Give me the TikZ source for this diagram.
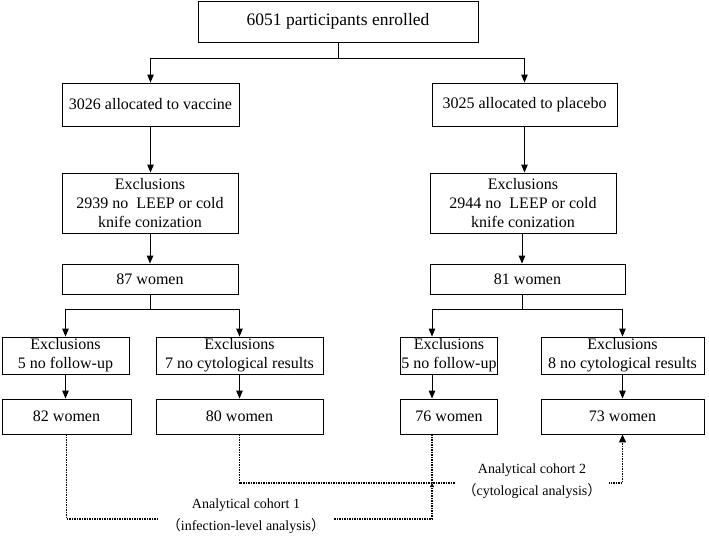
\documentclass[tikz,border=0pt]{standalone}
\usepackage{fontspec}
\setmainfont{Liberation Serif}
\newfontfamily\cjkfont{Noto Sans CJK SC}
\usetikzlibrary{arrows.meta}
\tikzset{
  box/.style={draw, line width=0.9pt, align=center, inner sep=0pt, font=\fontsize{16}{19}\selectfont},
  flow/.style={line width=0.9pt, -{Triangle[length=8pt,width=6.5pt]}},
  cohort/.style={line width=1.4pt, dash pattern=on 1.3pt off 1.2pt},
  cohortlabel/.style={fill=white, align=center, inner xsep=8pt, inner ysep=1pt, font=\fontsize{14}{22}\selectfont},
}
\begin{document}
\begin{tikzpicture}[x=1pt,y=-1pt,line join=miter]
  \useasboundingbox (0,0) rectangle (709,538);
  \node[box, minimum width=280pt, minimum height=41pt, font=\fontsize{17.5}{20}\selectfont] (enrol) at (338,21.5) {6051 participants enrolled};
  \node[box, minimum width=177pt, minimum height=43pt] (vac) at (150.5,104.5) {3026 allocated to vaccine};
  \node[box, minimum width=185pt, minimum height=43pt] (pla) at (524.5,104.5) {3025 allocated to placebo};
  \node[box, minimum width=176pt, minimum height=60pt] (exV) at (150,203) {Exclusions\\2939 no\ \ LEEP or cold\\knife conization};
  \node[box, minimum width=186pt, minimum height=60pt] (exP) at (523,203) {Exclusions\\2944 no\ \ LEEP or cold\\knife conization};
  \node[box, minimum width=176pt, minimum height=30pt] (w87) at (150,279) {87 women};
  \node[box, minimum width=195pt, minimum height=30pt] (w81) at (527.5,279) {81 women};
  \node[box, minimum width=127pt, minimum height=37pt] (exA) at (65.5,355.5) {Exclusions\\5 no follow-up};
  \node[box, minimum width=167pt, minimum height=37pt] (exB) at (239.5,355.5) {Exclusions\\7 no cytological results};
  \node[box, minimum width=97pt, minimum height=37pt] (exC) at (449,355.5) {Exclusions\\5 no follow-up};
  \node[box, minimum width=163pt, minimum height=37pt] (exD) at (622.5,355.5) {Exclusions\\8 no cytological results};
  \node[box, minimum width=129pt, minimum height=35pt] (w82) at (66.5,416.5) {82 women};
  \node[box, minimum width=167pt, minimum height=35pt] (w80) at (239.5,416.5) {80 women};
  \node[box, minimum width=97pt, minimum height=35pt] (w76) at (449,416.5) {76 women};
  \node[box, minimum width=163pt, minimum height=35pt] (w73) at (622.5,416.5) {73 women};

  \coordinate (pj) at (522,309);
  \coordinate (midP) at (432,0);
  \coordinate (c1) at (0,519);
  \coordinate (c2) at (0,483);

  \draw[flow] (enrol.south) -- ++(0,16) -| (vac.north);
  \draw[flow] (enrol.south) -- ++(0,16) -| (pla.north);
  \draw[flow] (vac.south) -- (vac.south |- exV.north);
  \draw[flow] (pla.south) -- (pla.south |- exP.north);
  \draw[flow] (exV.south) -- (w87.north);
  \draw[flow] (pj |- exP.south) -- (pj |- w81.north);
  \draw[flow] (w87.south) -- ++(0,15) -| (exA.north);
  \draw[flow] (w87.south) -- ++(0,15) -| (exB.north);
  \draw[line width=0.9pt] (pj |- w81.south) -- (pj);
  \draw[flow] (pj) -| (exC.north -| midP);
  \draw[flow] (pj) -| (exD.north);
  \draw[flow] (exA.south) -- (exA.south |- w82.north);
  \draw[flow] (exB.south) -- (w80.north);
  \draw[flow] (exC.south -| midP) -- (w76.north -| midP);
  \draw[flow] (exD.south) -- (w73.north);

  \draw[cohort, -{Triangle[length=4pt,width=4pt]}] (w82.south) -- (w82.south |- c1) -| (c2 -| midP);
  \draw[cohort] (w76.south -| midP) -- (c2 -| midP);
  \draw[cohort, -{Triangle[length=8pt,width=7pt]}] (w80.south) -- (w80.south |- c2) -| (w73.south);

  \node[cohortlabel] (lab1) at (246,516) {Analytical cohort 1\\{\cjkfont （}infection-level analysis{\cjkfont ）}};
  \node[cohortlabel] (lab2) at (532,481) {Analytical cohort 2\\{\cjkfont （}cytological analysis{\cjkfont ）}};
\end{tikzpicture}
\end{document}
